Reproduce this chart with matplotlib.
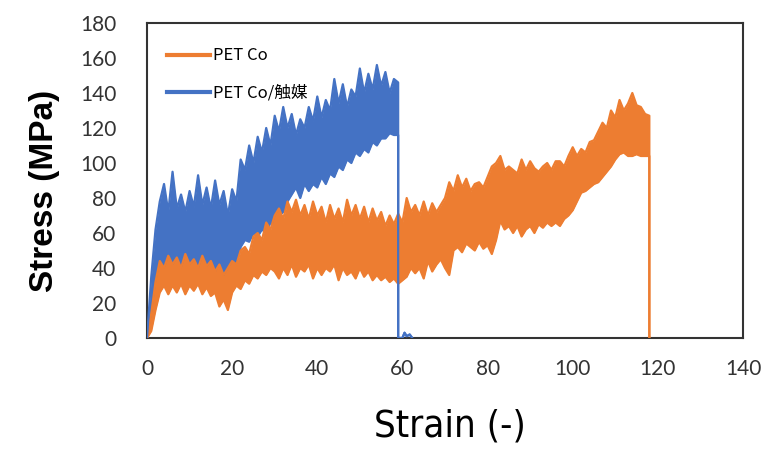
import matplotlib
matplotlib.use("Agg")
import matplotlib.pyplot as plt

# Stress-strain band of each sample: upper and lower edge of the noisy trace (MPa)
co_strain = [
    0, 1, 2, 3, 4, 5, 6, 7, 8, 9, 10, 11, 12, 13, 14, 15, 16, 17, 18, 19,
    20, 21, 22, 23, 24, 25, 26, 27, 28, 29, 30, 31, 32, 33, 34, 35, 36, 37, 38, 39,
    40, 41, 42, 43, 44, 45, 46, 47, 48, 49, 50, 51, 52, 53, 54, 55, 56, 57, 58, 59,
    60, 61, 62, 63, 64, 65, 66, 67, 68, 69, 70, 71, 72, 73, 74, 75, 76, 77, 78, 79,
    80, 81, 82, 83, 84, 85, 86, 87, 88, 89, 90, 91, 92, 93, 94, 95, 96, 97, 98, 99,
    100, 101, 102, 103, 104, 105, 106, 107, 108, 109, 110, 111, 112, 113, 114, 115, 116, 117, 118,
    118,
]
co_high = [
    0, 14, 32, 44, 40, 47, 42, 46, 40, 48, 42, 45, 40, 47, 41, 44, 38, 42, 36, 40,
    44, 42, 50, 52, 48, 58, 60, 56, 66, 62, 70, 74, 68, 78, 72, 79, 70, 76, 68, 78,
    70, 75, 66, 76, 68, 74, 66, 79, 70, 76, 68, 75, 66, 74, 67, 72, 64, 70, 65, 71,
    66, 80, 72, 76, 70, 78, 70, 77, 72, 76, 80, 89, 84, 93, 86, 91, 84, 88, 89, 86,
    92, 98, 100, 104, 96, 98, 96, 94, 102, 96, 101, 97, 95, 98, 100, 96, 101, 101, 98, 104,
    109, 104, 108, 106, 112, 113, 118, 123, 120, 130, 126, 136, 130, 134, 140, 133, 132, 128, 127,
    0,
]
co_low = [
    0, 4, 16, 26, 30, 25, 30, 26, 31, 25, 30, 27, 31, 25, 29, 24, 26, 18, 22, 16,
    26, 30, 28, 33, 31, 36, 34, 38, 36, 40, 38, 34, 40, 36, 42, 35, 40, 38, 42, 34,
    40, 36, 40, 38, 42, 33, 40, 36, 38, 34, 40, 35, 38, 33, 36, 33, 35, 32, 34, 31,
    33, 35, 40, 37, 40, 34, 44, 38, 42, 45, 40, 36, 50, 52, 49, 54, 52, 50, 55, 51,
    53, 48, 56, 67, 62, 64, 60, 64, 58, 62, 64, 60, 65, 63, 66, 64, 66, 64, 68, 70,
    73, 78, 83, 84, 86, 88, 89, 92, 95, 98, 102, 105, 106, 104, 104, 105, 104, 104, 104,
    0,
]

cat_strain = [
    0, 1, 2, 3, 4, 5, 6, 7, 8, 9, 10, 11, 12, 13, 14, 15, 16, 17, 18, 19,
    20, 21, 22, 23, 24, 25, 26, 27, 28, 29, 30, 31, 32, 33, 34, 35, 36, 37, 38, 39,
    40, 41, 42, 43, 44, 45, 46, 47, 48, 49, 50, 51, 52, 53, 54, 55, 56, 57, 58, 59,
    59, 60, 60.5, 61, 61.7, 62.3,
]
cat_high = [
    0, 35, 62, 78, 88, 72, 95, 74, 82, 72, 84, 75, 93, 76, 86, 74, 90, 76, 84, 70,
    85, 78, 102, 96, 110, 100, 115, 106, 120, 110, 127, 118, 132, 120, 128, 116, 125, 120, 132, 124,
    138, 126, 136, 130, 148, 134, 145, 132, 142, 138, 154, 140, 151, 142, 156, 144, 152, 140, 148, 146,
    0, 0, 3, 1, 2, 0,
]
cat_low = [
    0, 8, 30, 40, 38, 41, 36, 40, 38, 41, 37, 40, 38, 41, 36, 39, 35, 38, 34, 37,
    35, 42, 52, 56, 55, 60, 58, 62, 60, 66, 64, 70, 72, 78, 82, 86, 80, 88, 84, 88,
    86, 92, 88, 94, 92, 98, 96, 102, 100, 106, 104, 108, 106, 112, 110, 114, 114, 117, 116, 116,
    0, 0, 3, 1, 2, 0,
]

CO_COLOR = "#ED7D31"
CAT_COLOR = "#4472C4"

x_ticks = [0, 20, 40, 60, 80, 100, 120, 140]
y_ticks = [0, 20, 40, 60, 80, 100, 120, 140, 160, 180]

plt.rcParams["font.family"] = ["Noto Sans CJK JP", "DejaVu Sans"]

fig = plt.figure(figsize=(7.76, 4.54), dpi=100)
ax = fig.add_axes([147 / 776, 1 - 338 / 454, 596 / 776, 315 / 454])

# catalyst band sits under the plain sample, but its upper trace (incl. the
# break at ~59) stays on top
ax.fill_between(cat_strain, cat_low, cat_high, color=CAT_COLOR, linewidth=0, zorder=2)
ax.plot(cat_strain, cat_low, color=CAT_COLOR, linewidth=1.6, zorder=2)
ax.fill_between(co_strain, co_low, co_high, color=CO_COLOR, linewidth=0, zorder=3)
ax.plot(co_strain, co_low, color=CO_COLOR, linewidth=1.6, zorder=3)
ax.plot(co_strain, co_high, color=CO_COLOR, linewidth=1.6, zorder=3, label="PET Co")
ax.plot(cat_strain, cat_high, color=CAT_COLOR, linewidth=1.6, zorder=4, label="PET Co/触媒")

ax.set_xlim(0, 140)
ax.set_ylim(0, 180)
ax.set_xticks(x_ticks)
ax.set_yticks(y_ticks)
ax.tick_params(length=0, labelsize=15, labelcolor="#333333")
ax.tick_params(axis="y", pad=22)
ax.tick_params(axis="x", pad=15)
for lab in ax.get_xticklabels() + ax.get_yticklabels():
    lab.set_family("Lato")

for spine in ax.spines.values():
    spine.set_color("#333333")
    spine.set_linewidth(1.5)

ax.set_ylabel("Stress (MPa)", family="Liberation Sans", fontweight="bold",
              fontsize=24, va="center")
ax.yaxis.set_label_coords(-0.172, 0.467)
ax.set_xlabel("Strain (-)", family="DejaVu Sans", fontstretch="condensed",
              fontsize=27.5, va="center")
ax.xaxis.set_label_coords(0.508, -0.28)

leg = ax.legend(loc="upper left", bbox_to_anchor=(0.008, 0.97), frameon=False,
                fontsize=12, handlelength=2.6, labelspacing=1.2, handletextpad=0.15)
for line in leg.get_lines():
    line.set_linewidth(3)

fig.savefig("out.png", dpi=100)
